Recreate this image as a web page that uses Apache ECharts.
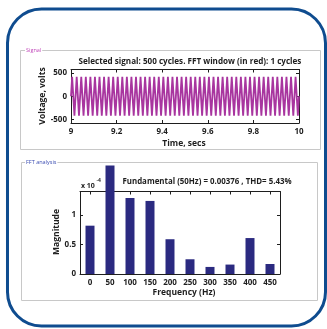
<!DOCTYPE html>
<html>
<head>
<meta charset="utf-8">
<script src="https://cdn.jsdelivr.net/npm/echarts@6/dist/echarts.min.js"></script>
<style>
  html, body { margin: 0; padding: 0; background: #fff; }
  #chart { width: 327px; height: 329px; }
</style>
</head>
<body>
<div id="chart"></div>
<script>
// --- signal panel data ---
const timeRange = [9, 10];
const timeTicks = [9, 9.2, 9.4, 9.6, 9.8, 10];
const voltRange = [-580, 580];
const voltTicks = [-500, 0, 500];
const sampleStart = 9.005;
const sampleStep = 0.01;
// peak / trough of each half cycle (50 Hz)
const signalPeaks = [
  420, -420, 420, -420, 420, -420, 420, -420, 420, -420,
  420, -420, 420, -420, 420, -420, 420, -420, 420, -420,
  420, -420, 420, -420, 420, -420, 420, -420, 420, -420,
  420, -420, 420, -420, 420, -420, 420, -420, 420, -420,
  420, -420, 420, -420, 420, -420, 420, -420, 420, -420,
  420, -420, 420, -420, 420, -420, 420, -420, 420, -420,
  420, -420, 420, -420, 420, -420, 420, -420, 420, -420,
  420, -420, 420, -420, 420, -420, 420, -420, 420, -420,
  420, -420, 420, -420, 420, -420, 420, -420, 420, -420,
  420, -420, 420, -420, 420, -420, 420, -420, 420, -420
];

// --- FFT panel data ---
const freqLabels = ['0', '50', '100', '150', '200', '250', '300', '350', '400', '450'];
const fftMagnitude = [0.82, 1.84, 1.29, 1.24, 0.59, 0.25, 0.12, 0.16, 0.61, 0.17]; // x 1e-4
const magRange = [0, 1.4];
const magTicks = [0, 0.5, 1];

const FONT = '"Open Sans", sans-serif';
const INK = '#1e1e1e';
const WAVE = '#a8359f';
const BAR = '#2b2a80';

const signalData = [[timeRange[0], 0]];
signalPeaks.forEach((v, i) => signalData.push([sampleStart + i * sampleStep, v]));
signalData.push([timeRange[1], 0]);

const axisLine = { show: true, onZero: false, lineStyle: { color: INK, width: 1 } };
const tick = { show: true, inside: true, length: 3, lineStyle: { color: INK } };
const label = { color: INK, fontFamily: FONT, fontWeight: 'bold', fontSize: 8 };

// bold text helper for graphic texts
const txt = (x, y, text, size, extra) => ({
  type: 'text', x, y, ...(extra || {}),
  style: { text, fill: INK, fontFamily: FONT, fontWeight: 'bold', fontSize: size,
    align: 'center', verticalAlign: 'middle' }
});

const chart = echarts.init(document.getElementById('chart'), null, { renderer: 'canvas' });

const option = {
  animation: false,
  grid: [
    { left: 71, top: 69.5, width: 228, height: 53.5 },
    { left: 80, top: 191.5, width: 200, height: 82.5 }
  ],
  xAxis: [
    {
      gridIndex: 0, type: 'value', min: timeRange[0], max: timeRange[1],
      axisLine, splitLine: { show: false },
      axisTick: { ...tick, customValues: timeTicks },
      axisLabel: { ...label, margin: 5, customValues: timeTicks }
    },
    {
      gridIndex: 0, type: 'value', position: 'top', min: timeRange[0], max: timeRange[1],
      axisLine, splitLine: { show: false },
      axisTick: { ...tick, customValues: timeTicks },
      axisLabel: { show: false }
    },
    {
      gridIndex: 1, type: 'category', data: freqLabels,
      axisLine, splitLine: { show: false },
      axisTick: { ...tick, alignWithLabel: true, interval: 0 },
      axisLabel: { ...label, margin: 5, interval: 0 }
    },
    {
      gridIndex: 1, type: 'category', data: freqLabels, position: 'top',
      axisLine, splitLine: { show: false },
      axisTick: { ...tick, alignWithLabel: true, interval: 0 },
      axisLabel: { show: false }
    }
  ],
  yAxis: [
    {
      gridIndex: 0, type: 'value', min: voltRange[0], max: voltRange[1],
      axisLine, splitLine: { show: false },
      axisTick: { ...tick, customValues: voltTicks },
      axisLabel: { ...label, margin: 4, customValues: voltTicks }
    },
    {
      gridIndex: 0, type: 'value', position: 'right', min: voltRange[0], max: voltRange[1],
      axisLine, splitLine: { show: false },
      axisTick: { ...tick, customValues: voltTicks },
      axisLabel: { show: false }
    },
    {
      gridIndex: 1, type: 'value', min: magRange[0], max: magRange[1],
      axisLine, splitLine: { show: false },
      axisTick: { ...tick, customValues: magTicks },
      axisLabel: { ...label, margin: 4, customValues: magTicks }
    },
    {
      gridIndex: 1, type: 'value', position: 'right', min: magRange[0], max: magRange[1],
      axisLine, splitLine: { show: false },
      axisTick: { ...tick, customValues: magTicks },
      axisLabel: { show: false }
    }
  ],
  series: [
    {
      type: 'line', xAxisIndex: 0, yAxisIndex: 0, data: signalData,
      showSymbol: false, lineStyle: { color: WAVE, width: 1.8 }
    },
    {
      type: 'bar', xAxisIndex: 2, yAxisIndex: 2, data: fftMagnitude,
      barWidth: 9, clip: false, itemStyle: { color: BAR }
    }
  ],
  graphic: [
    // outer rounded frame
    { type: 'rect', shape: { x: 7.5, y: 9, width: 318, height: 317, r: 34 },
      style: { fill: null, stroke: '#0f4c8f', lineWidth: 3 }, z: 10 },
    // group boxes
    { type: 'rect', shape: { x: 20.5, y: 50.5, width: 300, height: 99 },
      style: { fill: null, stroke: '#c8c8c8', lineWidth: 1 } },
    { type: 'rect', shape: { x: 21.5, y: 162.5, width: 296, height: 138 },
      style: { fill: null, stroke: '#c8c8c8', lineWidth: 1 } },
    { type: 'text', x: 25, y: 50.5, z: 5,
      style: { text: 'Signal', fill: '#c24bbb', fontFamily: FONT, fontSize: 5.5, verticalAlign: 'middle',
        backgroundColor: '#fff', padding: [0, 1] } },
    { type: 'text', x: 25, y: 162.5, z: 5,
      style: { text: 'FFT analysis', fill: '#3d4fb3', fontFamily: FONT, fontSize: 5.5, verticalAlign: 'middle',
        backgroundColor: '#fff', padding: [0, 1] } },
    // signal texts
    txt(190, 61.5, 'Selected signal: 500 cycles. FFT window (in red): 1 cycles', 8.1),
    txt(43, 96, 'Voltage, volts', 8.5, { rotation: Math.PI / 2 }),
    txt(184, 144, 'Time, secs', 8.5),
    // FFT texts
    { type: 'text', x: 81, y: 185.5,
      style: { text: 'x 10', fill: INK, fontFamily: FONT, fontWeight: 'bold', fontSize: 7, verticalAlign: 'middle' } },
    { type: 'text', x: 96.5, y: 181,
      style: { text: '-4', fill: INK, fontFamily: FONT, fontWeight: 'bold', fontSize: 5, verticalAlign: 'middle' } },
    txt(207, 182, 'Fundamental (50Hz) = 0.00376 , THD= 5.43%', 7.9),
    txt(57, 232, 'Magnitude', 8.5, { rotation: Math.PI / 2 }),
    txt(184, 293, 'Frequency (Hz)', 8.5)
  ]
};

chart.setOption(option);
</script>
</body>
</html>
